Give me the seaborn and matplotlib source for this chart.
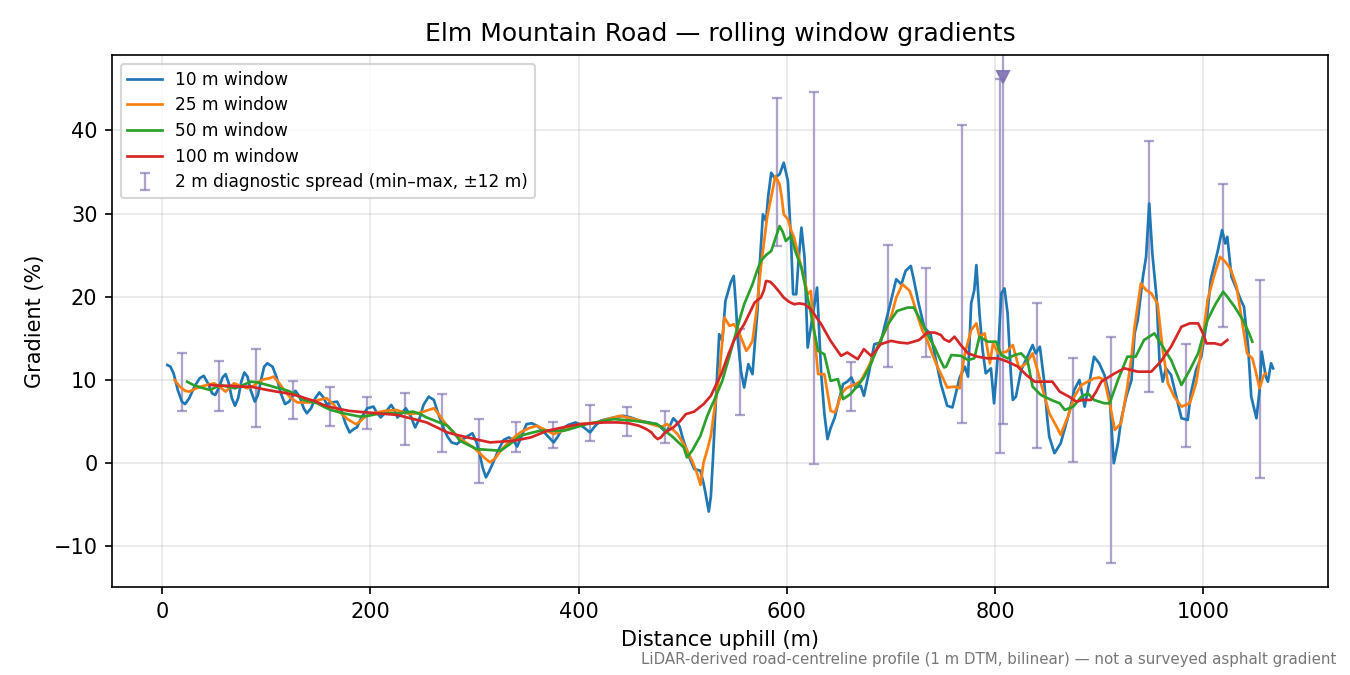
import numpy as np
import pandas as pd
import matplotlib
matplotlib.use("Agg")
import matplotlib.pyplot as plt
import seaborn as sns

plt.rcParams['font.family'] = ['DejaVu Sans']

# ---- data ----
d10 = [5, 8, 11, 15, 19, 22, 26, 31, 36, 40, 44, 48, 51, 55, 58, 61, 64, 67, 70, 73,
       76, 79, 82, 85, 89, 92, 95, 98, 101, 106, 110, 114, 118, 122, 128, 132, 136, 139, 143, 147,
       151, 155, 158, 163, 168, 172, 176, 180, 184, 187, 192, 197, 203, 206, 210, 215, 220, 223, 226, 230,
       234, 239, 243, 247, 251, 256, 261, 265, 270, 274, 278, 283, 289, 294, 298, 302, 305, 308, 311, 314,
       318, 323, 328, 333, 337, 341, 345, 350, 355, 360, 365, 370, 376, 380, 384, 390, 397, 401, 405, 411,
       416, 421, 427, 434, 443, 450, 459, 467, 475, 479, 484, 488, 491, 494, 497, 500, 503, 507, 511, 517,
       520, 522, 525, 527, 529, 531, 533, 535, 538, 541, 546, 549, 551, 553, 556, 559, 563, 567, 569, 572,
       574, 577, 580, 582, 585, 588, 593, 597, 601, 604, 606, 609, 611, 614, 617, 620, 625, 629, 631, 633,
       636, 639, 642, 646, 650, 654, 658, 662, 666, 671, 674, 679, 684, 690, 695, 700, 705, 710, 714, 719,
       722, 726, 732, 738, 743, 748, 754, 759, 766, 771, 774, 777, 780, 782, 785, 788, 791, 796, 799, 803,
       806, 809, 812, 815, 817, 820, 825, 831, 836, 839, 843, 847, 850, 852, 857, 863, 867, 871, 876, 881,
       886, 891, 895, 900, 905, 910, 912, 914, 918, 921, 926, 931, 934, 937, 942, 945, 948, 951, 955, 958,
       961, 964, 969, 974, 979, 985, 988, 993, 998, 1003, 1007, 1014, 1018, 1021, 1023, 1027, 1031, 1036, 1039, 1043,
       1046, 1051, 1054, 1056, 1060, 1062, 1065, 1067]
g10 = [11.8, 11.6, 10.8, 8.8, 7.4, 7.1, 7.8, 9.2, 10.2, 10.5, 9.6, 8.4, 8.2, 9.2, 10.3, 10.7, 9.6, 7.8, 6.9, 7.8,
       9.8, 10.9, 10.4, 8.8, 7.4, 8.2, 10.0, 11.6, 12.0, 11.6, 10.3, 8.4, 7.1, 7.4, 8.7, 8.0, 6.6, 6.0, 6.6, 7.8,
       8.5, 7.9, 7.1, 7.3, 7.4, 6.4, 4.8, 3.7, 4.1, 4.3, 5.6, 6.6, 6.8, 6.1, 5.5, 6.2, 7.0, 6.4, 5.5, 6.0,
       6.6, 5.6, 4.3, 5.3, 7.0, 8.0, 7.6, 6.0, 4.3, 3.2, 2.5, 2.3, 2.9, 3.3, 3.6, 2.5, 1.1, -0.6, -1.7, -1.0,
       0.1, 1.6, 2.8, 3.1, 2.8, 2.0, 3.2, 4.7, 4.8, 4.5, 4.0, 3.3, 2.5, 3.2, 4.1, 4.6, 4.9, 4.7, 4.3, 3.7,
       4.5, 5.1, 5.3, 5.5, 5.7, 5.5, 5.1, 4.9, 4.7, 4.3, 3.7, 4.6, 5.4, 5.0, 4.4, 3.0, 1.9, 0.5, -0.7, -0.9,
       -2.4, -3.7, -5.8, -4.0, 0.5, 5.5, 10.3, 15.5, 14.7, 19.5, 21.7, 22.5, 19.0, 14.7, 11.0, 9.1, 11.9, 10.7, 14.0, 18.7,
       24.0, 29.9, 29.1, 32.0, 34.9, 34.3, 34.7, 36.1, 33.9, 26.7, 20.3, 20.3, 24.0, 28.3, 24.7, 13.9, 17.9, 21.1, 16.0, 10.7,
       6.0, 2.9, 4.2, 5.5, 7.6, 9.5, 9.8, 10.3, 9.1, 9.3, 8.1, 11.0, 14.3, 14.5, 17.0, 19.5, 22.1, 21.5, 23.1, 23.7,
       22.0, 19.5, 16.3, 15.5, 12.5, 9.5, 6.9, 6.7, 10.3, 11.6, 10.4, 19.2, 20.8, 23.8, 18.0, 13.6, 10.8, 11.4, 7.2, 13.6,
       20.4, 21.0, 18.0, 11.0, 7.6, 8.0, 11.2, 12.8, 14.2, 13.2, 14.0, 10.0, 5.5, 3.2, 1.2, 2.4, 4.2, 6.0, 8.8, 10.0,
       6.8, 10.0, 12.8, 12.0, 10.6, 8.0, 4.0, 0.0, 2.4, 5.2, 8.0, 10.0, 15.6, 17.2, 22.4, 24.8, 31.2, 25.2, 20.0, 12.0,
       9.8, 11.4, 10.6, 8.0, 5.4, 5.2, 8.4, 11.2, 12.8, 16.8, 22.0, 25.6, 28.0, 26.4, 27.2, 22.4, 21.2, 19.6, 18.8, 14.0,
       8.0, 5.4, 8.8, 13.4, 10.4, 9.8, 12.0, 11.4]

d25 = [12, 17, 22, 26, 31, 37, 43, 50, 56, 61, 65, 69, 75, 82, 88, 93, 98, 103, 107, 112,
       117, 123, 130, 136, 142, 150, 158, 165, 171, 178, 186, 190, 194, 200, 206, 215, 225, 232, 238, 245,
       251, 256, 261, 265, 270, 276, 283, 288, 294, 300, 305, 310, 315, 320, 325, 331, 337, 344, 352, 360,
       368, 376, 382, 389, 395, 402, 410, 418, 428, 440, 450, 459, 467, 475, 480, 485, 490, 495, 501, 505,
       509, 514, 517, 520, 524, 527, 530, 535, 540, 545, 549, 553, 556, 561, 564, 567, 571, 575, 578, 581,
       585, 589, 593, 595, 597, 601, 604, 607, 610, 614, 617, 620, 623, 626, 630, 636, 639, 642, 646, 649,
       652, 657, 662, 666, 671, 678, 684, 690, 697, 701, 705, 711, 718, 722, 726, 730, 735, 740, 745, 750,
       754, 761, 766, 768, 771, 777, 782, 785, 790, 795, 798, 803, 811, 817, 823, 830, 836, 840, 844, 848,
       852, 859, 863, 866, 870, 876, 883, 889, 895, 900, 905, 910, 915, 921, 924, 927, 931, 934, 937, 940,
       945, 950, 956, 961, 966, 972, 979, 987, 993, 999, 1004, 1011, 1016, 1021, 1026, 1032, 1037, 1042, 1047, 1050,
       1054, 1058, 1060]
g25 = [10.0, 9.2, 8.7, 8.6, 8.9, 9.2, 9.4, 9.6, 9.1, 8.6, 9.1, 9.6, 9.3, 9.0, 9.3, 9.8, 10.1, 10.2, 10.4, 9.7,
       8.8, 7.9, 7.3, 7.3, 7.3, 7.6, 7.8, 7.0, 6.1, 5.3, 4.7, 5.0, 5.5, 5.9, 6.1, 6.3, 6.4, 6.1, 5.9, 6.0,
       6.2, 6.4, 6.6, 6.0, 5.1, 4.2, 3.3, 2.8, 2.3, 1.8, 1.2, 0.6, 0.1, 0.6, 1.5, 2.3, 3.0, 3.7, 4.2, 4.5,
       4.0, 3.5, 3.8, 4.1, 4.4, 4.7, 4.8, 4.9, 5.3, 5.7, 5.4, 5.1, 4.8, 4.5, 4.4, 4.7, 4.1, 3.5, 2.3, 1.3,
       0.3, -1.3, -2.6, 0.1, 1.8, 3.3, 6.1, 10.5, 17.5, 16.5, 16.7, 16.0, 15.1, 13.5, 14.0, 14.7, 18.5, 23.5, 26.5, 29.5,
       32.0, 34.5, 33.5, 32.0, 29.9, 29.3, 28.0, 27.1, 25.5, 23.5, 22.0, 20.3, 20.7, 16.0, 10.7, 10.7, 8.5, 6.3, 6.1, 7.0,
       8.3, 9.0, 9.3, 9.5, 9.9, 11.5, 13.1, 14.8, 16.5, 18.0, 19.9, 21.5, 20.7, 19.2, 17.5, 16.0, 14.7, 13.0, 11.5, 10.2,
       9.1, 9.2, 9.0, 11.0, 13.2, 16.0, 16.8, 15.2, 15.6, 12.0, 14.4, 13.2, 13.4, 14.2, 11.4, 12.0, 13.2, 11.5, 9.6, 7.8,
       6.0, 4.4, 3.4, 4.4, 5.6, 8.0, 9.4, 9.8, 10.2, 10.3, 10.0, 7.2, 4.0, 4.8, 7.0, 9.2, 12.8, 16.4, 19.0, 21.6,
       20.8, 20.4, 19.2, 13.6, 9.6, 8.0, 6.8, 7.2, 9.6, 14.4, 19.6, 22.8, 24.8, 24.2, 23.4, 21.2, 17.2, 13.2, 12.6, 11.2,
       9.0, 10.6, 10.8]

d50 = [24, 30, 37, 46, 56, 63, 70, 78, 85, 92, 98, 104, 109, 116, 123, 130, 136, 143, 149, 155,
       162, 168, 174, 182, 190, 198, 206, 216, 228, 241, 248, 254, 264, 274, 280, 286, 294, 302, 313, 325,
       333, 344, 353, 363, 375, 386, 397, 408, 420, 434, 443, 453, 465, 475, 480, 485, 490, 496, 501, 504,
       509, 513, 517, 523, 527, 530, 538, 544, 549, 554, 559, 563, 567, 571, 575, 580, 585, 589, 593, 596,
       599, 604, 608, 614, 618, 622, 626, 630, 636, 642, 649, 654, 661, 668, 674, 681, 687, 692, 697, 702,
       706, 716, 722, 727, 732, 737, 742, 747, 751, 753, 758, 767, 774, 780, 785, 793, 801, 806, 812, 819,
       825, 831, 836, 844, 854, 862, 867, 875, 883, 889, 895, 905, 910, 918, 927, 935, 943, 953, 961, 969,
       979, 987, 995, 1004, 1012, 1019, 1023, 1030, 1038, 1044, 1047]
g50 = [9.8, 9.4, 9.1, 8.8, 9.4, 9.2, 9.0, 9.4, 9.8, 9.7, 9.5, 9.3, 9.1, 8.9, 8.6, 8.1, 7.6, 7.4, 7.2, 6.8,
       6.4, 6.2, 6.0, 5.8, 5.6, 5.7, 5.9, 6.0, 6.0, 6.2, 5.9, 5.5, 5.0, 4.5, 3.7, 2.7, 2.2, 1.7, 1.6, 1.5,
       2.2, 3.3, 3.6, 3.9, 3.9, 3.9, 4.3, 4.7, 5.0, 5.3, 5.2, 5.1, 4.9, 4.7, 4.3, 3.7, 3.2, 2.5, 1.9, 0.7,
       1.5, 2.4, 3.3, 5.5, 6.7, 7.5, 9.9, 12.5, 14.7, 17.0, 19.1, 20.3, 21.5, 23.0, 24.3, 25.0, 25.5, 27.0, 28.5, 27.8,
       26.7, 27.3, 25.5, 23.5, 21.0, 18.7, 16.0, 13.5, 13.1, 9.9, 10.1, 7.7, 8.3, 9.3, 10.3, 12.0, 13.9, 15.3, 16.7, 17.6,
       18.3, 18.7, 18.7, 17.5, 16.3, 15.0, 13.9, 12.5, 11.5, 11.6, 13.0, 12.9, 12.4, 12.6, 15.2, 14.6, 14.6, 13.0, 12.6, 13.0,
       13.2, 12.4, 9.2, 8.2, 7.6, 7.2, 6.4, 6.8, 8.0, 8.4, 7.6, 7.2, 7.2, 10.0, 12.8, 12.8, 14.8, 15.6, 14.0, 12.4,
       9.4, 11.2, 13.2, 17.2, 19.2, 20.6, 20.0, 18.8, 17.2, 15.6, 14.6]

d100 = [46, 56, 66, 75, 85, 93, 101, 110, 120, 127, 133, 140, 146, 155, 163, 171, 179, 187, 197, 206,
        216, 226, 235, 245, 254, 264, 274, 283, 293, 304, 315, 326, 338, 346, 354, 362, 370, 381, 392, 402,
        413, 425, 438, 448, 458, 465, 470, 473, 476, 479, 483, 487, 491, 497, 503, 511, 520, 527, 533, 537,
        543, 549, 554, 559, 564, 569, 575, 578, 580, 584, 588, 592, 597, 602, 607, 612, 617, 623, 628, 633,
        638, 642, 647, 652, 658, 663, 668, 674, 681, 686, 690, 700, 708, 716, 727, 735, 742, 748, 751, 756,
        761, 767, 774, 783, 793, 803, 812, 822, 830, 838, 847, 855, 862, 871, 878, 884, 892, 897, 902, 915,
        924, 937, 950, 959, 969, 979, 987, 995, 1000, 1003, 1011, 1017, 1023]
g100 = [9.4, 9.3, 9.3, 9.2, 9.2, 9.0, 8.8, 8.6, 8.4, 8.2, 8.0, 7.7, 7.5, 7.0, 6.7, 6.5, 6.3, 6.2, 6.1, 6.0,
        5.9, 5.8, 5.5, 5.2, 4.9, 4.3, 3.7, 3.4, 3.1, 2.8, 2.5, 2.6, 2.7, 2.9, 3.1, 3.5, 3.9, 4.2, 4.5, 4.7,
        4.8, 4.9, 4.9, 4.8, 4.5, 4.1, 3.7, 3.2, 2.9, 3.1, 3.7, 4.0, 4.3, 5.0, 5.9, 6.2, 7.1, 8.1, 9.7, 10.7,
        12.8, 14.7, 15.7, 16.7, 18.0, 19.3, 19.9, 20.8, 21.9, 21.8, 21.3, 20.7, 19.9, 19.4, 19.1, 19.2, 19.1, 18.5, 17.6, 16.7,
        15.6, 14.7, 13.8, 12.9, 13.3, 12.9, 12.5, 13.7, 12.9, 13.6, 14.3, 14.7, 14.5, 14.4, 14.8, 15.7, 15.7, 15.4, 14.9, 14.6,
        15.2, 14.2, 13.2, 12.8, 12.6, 12.6, 12.2, 11.6, 10.6, 9.8, 9.8, 9.8, 8.6, 8.0, 7.4, 7.6, 7.6, 8.6, 9.8, 10.8,
        11.4, 11.0, 11.0, 12.2, 14.0, 16.4, 16.8, 16.8, 15.5, 14.4, 14.4, 14.2, 14.8]

# 2 m diagnostic spread (min / max within +-12 m)
diag_x = [19.2, 54.4, 90.2, 125.8, 161, 196.8, 233.6, 268.6, 304.5, 340, 375.3, 411.2, 446.5, 483.3,
          554.8, 590.4, 626.3, 661.5, 697.4, 733.6, 768.6, 804.8, 807.7, 840, 875.2, 911, 947.6, 983.2,
          1018.8, 1054.3]
diag_lo = [6.3, 6.3, 4.3, 5.3, 4.5, 4.1, 2.2, 1.3, -2.4, 1.3, 1.8, 2.7, 3.3, 2.4,
           5.8, 26.1, -0.1, 6.3, 11.5, 12.8, 4.8, 1.2, 4.7, 1.8, 0.2, -12.0, 8.6, 2.0,
           16.4, -1.8]
diag_hi = [13.3, 12.3, 13.7, 9.9, 9.2, 8.0, 8.4, 8.3, 5.3, 5.0, 5.0, 7.0, 6.8, 6.3,
           16.1, 43.9, 44.6, 12.2, 26.2, 23.4, 40.6, 46.2, 62.0, 19.2, 12.6, 15.2, 38.7, 14.3,
           33.6, 22.0]
y_limits = (-14.9, 49.0)
spread_label = "2 m diagnostic spread (min\u2013max, \u00b112 m)"

series = [("10 m window", d10, g10, "#1f77b4"),
          ("25 m window", d25, g25, "#ff7f0e"),
          ("50 m window", d50, g50, "#2ca02c"),
          ("100 m window", d100, g100, "#d62728")]

fig, ax = plt.subplots(figsize=(9, 4.5), dpi=150)
fig.subplots_adjust(left=0.083, right=0.984, top=0.918, bottom=0.13)

# error bars underneath the lines
dx = np.array(diag_x)
lo = np.array(diag_lo)
hi = np.array(diag_hi)
mid = (lo + hi) / 2
ax.errorbar(dx, mid, yerr=[mid - lo, hi - mid], fmt="none", ecolor="#8172b3",
            alpha=0.65, elinewidth=1.1, capsize=2.5, capthick=1.1, zorder=1,
            label=spread_label)

# off-scale marker where the spread runs past the axis
off = hi > y_limits[1]
ax.plot(dx[off], np.full(off.sum(), y_limits[1] - 2.6), linestyle="none", marker="v",
        markersize=6, color="#8172b3", alpha=0.9, zorder=3)

for name, d, g, col in series:
    df = pd.DataFrame({"dist": d, "grad": g})
    sns.lineplot(data=df, x="dist", y="grad", ax=ax, color=col, linewidth=1.3,
                 label=name, estimator=None, zorder=2)

ax.set_ylim(*y_limits)
ax.grid(True, alpha=0.3)
ax.set_title("Elm Mountain Road \u2014 rolling window gradients", fontsize=12, pad=7)
ax.set_xlabel("Distance uphill (m)", fontsize=10)
ax.set_ylabel("Gradient (%)", fontsize=10)

handles, labels = ax.get_legend_handles_labels()
order = [labels.index(s[0]) for s in series] + [labels.index(spread_label)]
ax.legend([handles[i] for i in order], [labels[i] for i in order], loc="upper left",
          fontsize=8.2, labelspacing=0.45)

fig.text(0.99, 0.012,
         "LiDAR-derived road-centreline profile (1 m DTM, bilinear) \u2014 not a surveyed asphalt gradient",
         ha="right", va="bottom", fontsize=7.2, color="#777777")

fig.savefig("out.png", dpi=150)
